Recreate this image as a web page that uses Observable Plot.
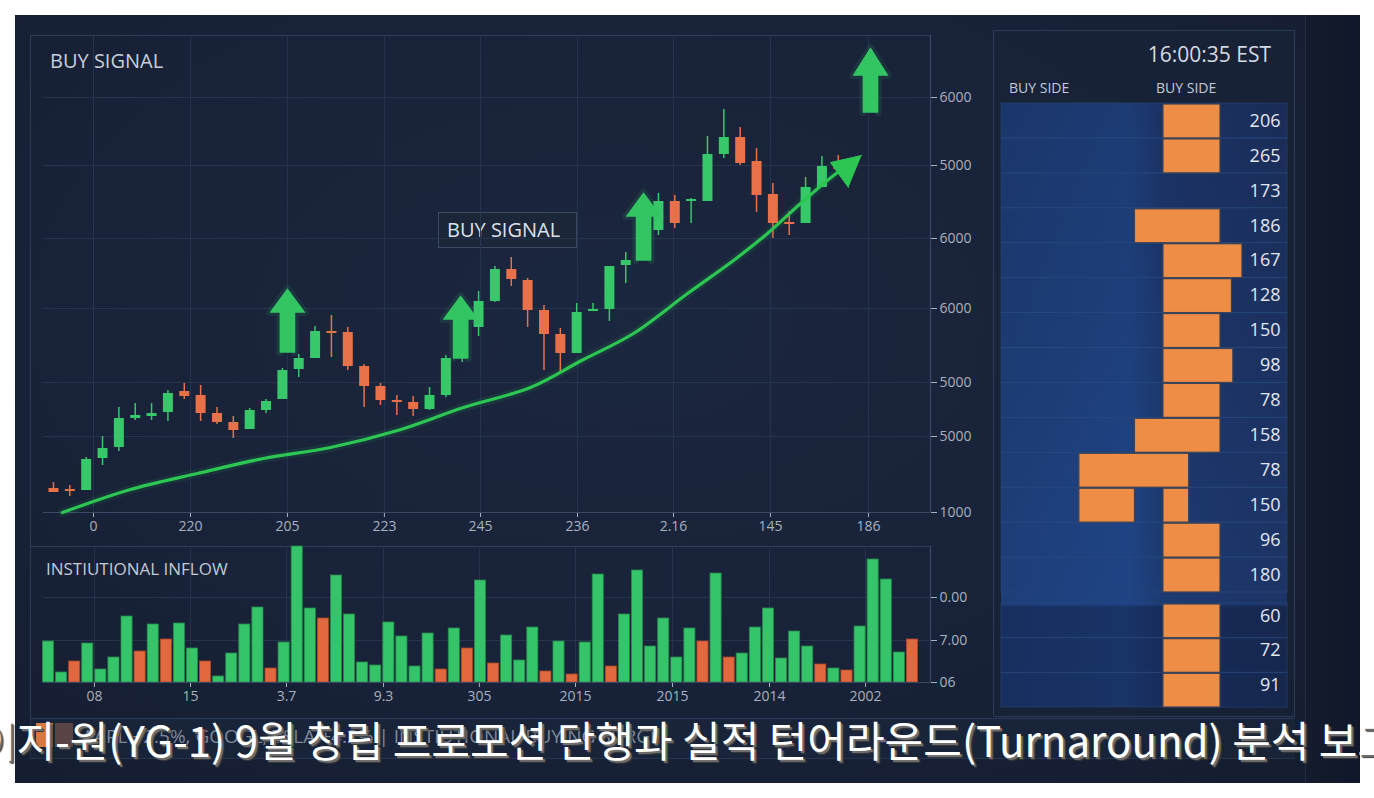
<!DOCTYPE html>
<html><head><meta charset="utf-8">
<script src="https://cdn.jsdelivr.net/npm/d3@7"></script>
<script src="https://cdn.jsdelivr.net/npm/@observablehq/plot@0.6"></script>
<style>
body{margin:0;background:#fff;}
#root{position:relative;width:1374px;height:798px;overflow:hidden;background:#fff;font-family:"Open Sans",sans-serif;}
.abs{position:absolute;}
.lbl{position:absolute;white-space:nowrap;line-height:1;}
</style></head><body>
<div id="root">
  <div class="abs" style="left:15px;top:15px;width:1344px;height:768px;background:radial-gradient(ellipse at 45% 40%, #1b273f 0%, #182238 55%, #141c2f 100%);"></div>
  <div class="abs" style="left:1305px;top:15px;width:54px;height:768px;background:linear-gradient(to right,#141b2c,#10172a);border-left:1px solid #222d42;"></div>
  <!-- left panel line -->
  <div class="abs" style="left:30px;top:35px;width:0;height:722px;border-left:1px solid #2c3b57;"></div>
  <!-- main frame top -->
  <div class="abs" style="left:30px;top:35px;width:900px;height:477px;border-top:1px solid #2f3e5a;"></div>
  <!-- volume frame top -->
  <div class="abs" style="left:30px;top:546px;width:900px;height:0;border-top:1px solid #2f3e5a;"></div>
  <!-- legend strip -->
  <div class="abs" style="left:30px;top:718px;width:1265px;height:39px;border-top:1px solid #2c3b57;border-bottom:1px solid #26344e;background:rgba(28,40,62,0.55);"></div>
  <div class="abs" style="left:36px;top:723px;width:17px;height:24px;background:#d9783e;"></div>
  <div class="abs" style="left:55px;top:723px;width:18px;height:24px;background:#5b4446;"></div>
  <div class="lbl" style="left:82px;top:727px;font-size:19px;color:#7f8999;">AAPL +2.5%, GOOGL, TSLA +4.2% | INSTIUTIONAL BUYING SURGE</div>
  <!-- right panel -->
  <div class="abs" style="left:993px;top:30px;width:302px;height:687px;border:1px solid #2c3b57;box-sizing:border-box;background:rgba(26,36,56,0.55);"></div>
  <div class="abs" style="left:1001px;top:103px;width:286px;height:604px;background:linear-gradient(to right,#1c3a72 0%,#1e407e 45%,#1b3569 57%,#1b2f5c 100%);"></div>
  <div class="abs" style="left:1001px;top:103px;width:286px;height:604px;background:linear-gradient(to bottom,rgba(20,30,60,0.15) 0%,rgba(40,90,170,0.10) 70%,rgba(40,90,170,0.12) 83%,rgba(12,22,50,0.30) 83.5%,rgba(12,22,50,0.30) 100%);"></div>

  <div class="lbl" style="left:1000px;top:44px;width:271px;text-align:right;font-size:21px;color:#d5dae2;">16:00:35 EST</div>
  <div class="lbl" style="left:1009px;top:81px;font-size:14px;color:#c3cad5;">BUY SIDE</div>
  <div class="lbl" style="left:1156px;top:81px;font-size:14px;color:#c3cad5;">BUY SIDE</div>

  <div class="lbl" style="left:50px;top:51px;font-size:20px;color:#c9cfd9;">BUY SIGNAL</div>
  <div class="abs" style="left:438px;top:212px;width:139px;height:36px;box-sizing:border-box;border:1px solid #3a4964;background:#1c2639;"></div>
  <div class="lbl" style="left:447px;top:220px;font-size:20px;color:#dde2ea;">BUY SIGNAL</div>
  <div class="lbl" style="left:46px;top:560px;font-size:17px;color:#c3c9d3;">INSTIUTIONAL INFLOW</div>

  <div id="main" class="abs" style="left:0;top:0;width:1000px;"></div>
  <div id="vol" class="abs" style="left:0;top:540px;width:1000px;"></div>
  <div id="book1" class="abs" style="left:1001px;top:103px;width:286px;"></div>
  <div id="book2" class="abs" style="left:1001px;top:603px;width:286px;"></div>

  <div class="lbl" style="left:-300px;top:713px;width:1974px;text-align:center;font-size:42px;line-height:52px;color:#ffffff;font-family:'Noto Sans CJK KR',sans-serif;text-shadow:2px 2px 0 #6e6e6e,3px 3px 1px #3a3a3a;">와이지-원(YG-1) 9월 창립 프로모션 단행과 실적 턴어라운드(Turnaround) 분석 보고서</div>
</div>
<script>
// ---------- main price chart ----------
const candleOpen  = [1240,1230,1220,1540,1650,1940,1960,2000,2210,2170,1990,1900,1830,2020,2130,2430,2540,2810,2800,2460,2260,2120,2100,2030,2170,2590,2850,3110,3430,3320,3020,2780,2590,3010,3030,3470,3540,3820,4110,4110,4110,4580,4750,4510,4180,3900,3890,4250,4450];
const candleClose = [1200,1210,1530,1640,1940,1970,1990,2190,2160,1990,1900,1820,2020,2110,2420,2540,2810,2790,2460,2260,2120,2100,2030,2170,2540,2850,3110,3430,3330,3020,2780,2590,3000,3030,3460,3520,3820,4110,3890,4130,4580,4750,4490,4170,3890,3880,4250,4460,4430];
const candleHigh  = [1300,1270,1550,1760,2050,2090,2090,2220,2290,2270,2050,1960,2040,2130,2440,2580,2860,2970,2850,2480,2290,2170,2160,2250,2570,2870,3210,3460,3550,3340,3070,2840,3090,3090,3460,3600,3840,4190,4170,4140,4760,5030,4850,4640,4290,4010,4350,4560,4570];
const candleLow   = [1200,1160,1220,1470,1610,1920,1920,1910,2130,1910,1880,1740,1830,1990,2130,2350,2540,2550,2420,2050,2070,1970,1960,2020,2150,2500,2760,3100,3260,2850,2420,2400,2590,3010,2910,3290,3520,3770,3840,3890,4110,4540,4470,4000,3740,3770,3890,4250,4420];

const trendX = [0.55,4.71,8.81,12.84,16.94,21.04,25.08,29.17,32.3,35.47,38.78,41.59,43.67,45.69,47.71,48.5];
const trendY = [1000,1230,1390,1540,1650,1820,2050,2250,2520,2790,3190,3520,3790,4090,4370,4460];
const trendHeadX = [49.42,47.52,48.62];
const trendHeadY = [4570,4500,4250];

const arrowX    = [14.31,24.9,36.09,49.97];
const arrowTip  = [3240,3170,4200,5650];
const arrowBase = [3000,2930,3960,5370];
const arrowFoot = [2600,2540,3520,5000];

const mainXTicks  = [2.45,8.38,14.31,20.24,26.12,32.05,37.92,43.85,49.85];
const mainXLabels = ["0","220","205","223","245","236","2.16","145","186"];
const mainYTicks  = [1000,1760,2300,3040,3740,4470,5150];
const mainYLabels = ["1000","5000","5000","6000","6000","5000","6000"];

// ---------- institutional inflow ----------
const volValue = [41,10,21,39,13,25,66,31,58,43,59,34,21,6,29,58,75,14,40,136,74,64,107,68,20,17,60,46,16,49,13,54,34,102,19,47,22,55,11,41,8,40,108,16,68,112,36,64,25,54,41,109,25,29,55,74,24,51,36,18,14,12,56,123,103,30,43];
const volSide  = ["G","G","R","G","G","G","G","R","G","R","G","G","R","G","G","G","G","R","G","G","G","R","G","G","G","G","G","G","G","G","R","G","R","G","R","G","G","G","R","G","R","G","G","R","G","G","G","G","G","G","R","G","R","G","G","G","G","G","G","R","G","R","G","G","G","G","R"];
const volXTicks  = [4.01,11.35,18.68,26.09,33.42,40.76,48.17,55.58,62.92];
const volXLabels = ["08","15","3.7","9.3","305","2015","2015","2014","2002"];
const volYTicks  = [0,42,85];
const volYLabels = ["06","7.00","0.00"];

// ---------- order book ----------
const bookLabels = [206,265,173,186,167,128,150,98,78,158,78,150,96,180,60,72,91];
const bookRow  = [0,1,3,4,5,6,7,8,9,10,11,11,12,13,14,15,16];
const bookFrom = [0,0,-1,0,0,0,0,0,-1,-2.95,-2.95,0,0,0,0,0,0];
const bookTo   = [2,2,2,2.77,2.4,2,2.45,2,2,0.9,-1,0.9,2,2,2,2,2];

const GREEN = "#37c86a", RED = "#e8714a", LINEG = "#2cc653", GRID = "#27344f", AX = "#3a4a66";
const baseStyle = {background: "transparent", color: "#a9b1bf", fontSize: "14px", fontFamily: "'Open Sans', sans-serif", overflow: "visible"};

const candles = candleOpen.map((o, i) => ({i, o, c: candleClose[i], h: candleHigh[i], l: candleLow[i]}));
const ups = candles.filter(d => d.c >= d.o), downs = candles.filter(d => d.c < d.o);
const trend = trendX.map((x, i) => ({x, y: trendY[i]}));
const head = trendHeadX.map((x, i) => ({x, y: trendHeadY[i]}));
const HW = 1.08, SW = 0.47;
const arrowPts = arrowX.flatMap((x, k) => [
  [x - SW, arrowFoot[k]], [x - SW, arrowBase[k]], [x - HW, arrowBase[k]], [x, arrowTip[k]],
  [x + HW, arrowBase[k]], [x + SW, arrowBase[k]], [x + SW, arrowFoot[k]]
].map(([px, py]) => ({k, x: px, y: py})));

const main = Plot.plot({
  width: 1000, height: 545,
  marginLeft: 43, marginRight: 70, marginTop: 35, marginBottom: 33,
  style: baseStyle,
  x: {domain: [-0.61, 53.64], ticks: mainXTicks, tickFormat: d => mainXLabels[mainXTicks.indexOf(d)], tickSize: 5, label: null},
  y: {domain: [1000, 5770], axis: "right", ticks: mainYTicks, tickFormat: d => mainYLabels[mainYTicks.indexOf(d)], tickSize: 6, label: null},
  marks: [
    Plot.ruleX(mainXTicks, {stroke: GRID, strokeWidth: 1}),
    Plot.ruleY(mainYTicks, {stroke: GRID, strokeWidth: 1}),
    Plot.ruleY([1000], {stroke: AX, strokeWidth: 1.2}),
    Plot.ruleX([53.64], {stroke: AX, strokeWidth: 1.2}),
    Plot.line(trend, {x: "x", y: "y", curve: "catmull-rom", stroke: LINEG, strokeWidth: 9, strokeOpacity: 0.1}),
    Plot.ruleX(ups, {x: "i", y1: "l", y2: "h", stroke: GREEN, strokeWidth: 1.5}),
    Plot.ruleX(downs, {x: "i", y1: "l", y2: "h", stroke: RED, strokeWidth: 1.5}),
    Plot.ruleX(ups, {x: "i", y1: "o", y2: "c", stroke: GREEN, strokeWidth: 10}),
    Plot.ruleX(downs, {x: "i", y1: "o", y2: "c", stroke: RED, strokeWidth: 10}),
    Plot.line(trend, {x: "x", y: "y", curve: "catmull-rom", stroke: LINEG, strokeWidth: 3.2}),
    Plot.line(head, {x: "x", y: "y", fill: LINEG, stroke: LINEG, strokeWidth: 1, strokeLinejoin: "round"}),
    Plot.line(arrowPts, {x: "x", y: "y", z: "k", fill: GREEN, stroke: GREEN, strokeWidth: 7, strokeOpacity: 0.12}),
    Plot.line(arrowPts, {x: "x", y: "y", z: "k", fill: "#34c563", stroke: "none"})
  ]
});
document.getElementById("main").append(main);

const vols = volValue.map((v, i) => ({i, v, s: volSide[i]}));
const vol = Plot.plot({
  width: 1000, height: 180,
  marginLeft: 43, marginRight: 70, marginTop: 6, marginBottom: 38,
  style: baseStyle,
  x: {domain: [0.118, 67.88], ticks: volXTicks, tickFormat: d => volXLabels[volXTicks.indexOf(d)], tickSize: 5, label: null},
  y: {domain: [0, 136], axis: "right", ticks: volYTicks, tickFormat: d => volYLabels[volYTicks.indexOf(d)], tickSize: 6, label: null},
  marks: [
    Plot.ruleX(volXTicks, {stroke: GRID, strokeWidth: 1}),
    Plot.ruleY([42, 85], {stroke: GRID, strokeWidth: 1}),
    Plot.rect(vols.filter(d => d.s === "G"), {x1: "i", x2: d => d.i + 1, y1: d => 0, y2: "v", fill: "#36c46a", stroke: "#248a4a", strokeWidth: 0.8, insetLeft: 1, insetRight: 1}),
    Plot.rect(vols.filter(d => d.s === "R"), {x1: "i", x2: d => d.i + 1, y1: d => 0, y2: "v", fill: "#e2683f", stroke: "#a8472a", strokeWidth: 0.8, insetLeft: 1, insetRight: 1}),
    Plot.ruleY([0], {stroke: AX, strokeWidth: 1.2}),
    Plot.ruleX([67.88], {stroke: AX, strokeWidth: 1.2})
  ]
});
document.getElementById("vol").append(vol);

const segs = bookRow.map((r, i) => ({r, x1: bookFrom[i], x2: bookTo[i]}));
const labs = bookLabels.map((v, r) => ({r, v}));
function bookPlot(rows, h, dy) {
  return Plot.plot({
    width: 286, height: h, margin: 0,
    style: {...baseStyle, fontSize: "18px"},
    x: {domain: [-5.68, 4.35], axis: null},
    y: {type: "band", domain: rows, padding: 0, round: false, axis: null},
    marks: [
      Plot.barX(rows, {x1: () => -5.68, x2: () => 4.35, y: d => d, fill: "none", stroke: "#2a4a80", strokeOpacity: 0.55, strokeWidth: 1}),
      Plot.barX(segs.filter(d => rows.includes(d.r)), {x1: "x1", x2: "x2", y: "r", fill: "#ee8d45", stroke: "#3b4458", strokeWidth: 1.2, insetTop: 1}),
      Plot.text(labs.filter(d => rows.includes(d.r)), {x: () => 4.35, y: "r", text: d => String(d.v), textAnchor: "end", dx: -7, dy: dy, fill: "#e3e7ee", fontSize: 18})
    ]
  });
}
document.getElementById("book1").append(bookPlot(d3.range(0, 14), 489, 0));
document.getElementById("book2").append(bookPlot(d3.range(14, 17), 104, -5));
</script>
</body></html>
